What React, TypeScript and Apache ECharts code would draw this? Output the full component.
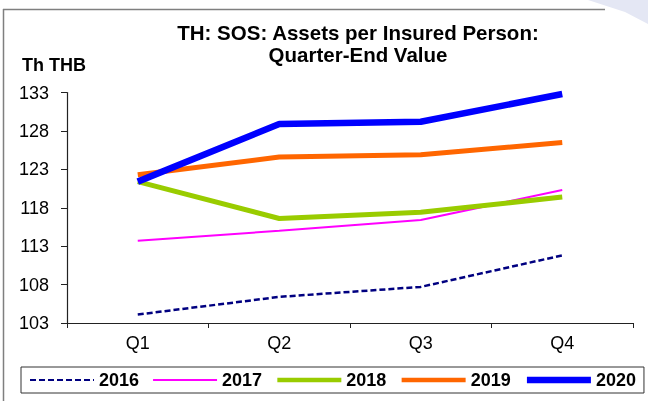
import { useEffect, useRef } from "react";
import * as echarts from "echarts";

const quarters = ["Q1", "Q2", "Q3", "Q4"];
const years = ["2016", "2017", "2018", "2019", "2020"];
const v2016 = [104.1, 106.4, 107.7, 111.8];
const v2017 = [113.7, 115.0, 116.4, 120.3];
const v2018 = [121.4, 116.6, 117.4, 119.4];
const v2019 = [122.3, 124.6, 124.9, 126.5];
const v2020 = [121.4, 128.9, 129.2, 132.8];
const yTicks = [103, 108, 113, 118, 123, 128, 133];

const FONT = '"Liberation Sans", Arial, sans-serif';

export default function App() {
  const ref = useRef<HTMLDivElement>(null);
  useEffect(() => {
    const chart = echarts.init(ref.current!, null, { renderer: "svg" });
    const values = [v2016, v2017, v2018, v2019, v2020];
    const styles = [
      { color: "#000080", width: 2.5, legendWidth: 2, type: [6, 3] as any },
      { color: "#ff00ff", width: 2, legendWidth: 2, type: "solid" },
      { color: "#99cc00", width: 5, legendWidth: 4.5, type: "solid" },
      { color: "#ff6600", width: 5, legendWidth: 4.5, type: "solid" },
      { color: "#0000ff", width: 6.5, legendWidth: 6.5, type: "solid" },
    ];
    chart.setOption({
      animation: false,
      textStyle: { fontFamily: FONT },
      grid: { left: 67, right: 15, top: 92.5, bottom: 78, containLabel: false },
      graphic: [
        {
          type: "polygon",
          shape: { points: [[588, 0], [648, 0], [648, 24], [625, 12]] },
          style: { fill: "#e4e7f4" },
          silent: true,
        },
        {
          type: "line",
          shape: { x1: 3, y1: 9.5, x2: 605, y2: 9.5 },
          style: { stroke: "#7f7f7f", lineWidth: 1.5 },
          silent: true,
        },
        {
          type: "line",
          shape: { x1: 3.5, y1: 9, x2: 3.5, y2: 401 },
          style: { stroke: "#7f7f7f", lineWidth: 1.5 },
          silent: true,
        },
        {
          type: "text",
          x: 358,
          y: 21,
          style: {
            text: "TH: SOS: Assets per Insured Person:\nQuarter-End Value",
            font: `bold 20.5px ${FONT}`,
            textAlign: "center",
            textVerticalAlign: "top",
            lineHeight: 22,
            fill: "#000",
          },
          silent: true,
        },
        {
          type: "text",
          x: 22,
          y: 65,
          style: {
            text: "Th THB",
            font: `bold 18px ${FONT}`,
            textAlign: "left",
            textVerticalAlign: "middle",
            fill: "#000",
          },
          silent: true,
        },
      ],
      legend: {
        data: years.map((y, i) => ({
          name: y,
          itemStyle: { opacity: 0 },
          lineStyle: {
            width: styles[i].legendWidth,
            color: styles[i].color,
            type: styles[i].type,
          },
        })),
        left: 21,
        top: 367,
        orient: "horizontal",
        itemWidth: 64,
        itemHeight: 14,
        itemGap: 13,
        padding: [4, 8],
        borderColor: "#333",
        borderWidth: 1,
        selectedMode: false,
        itemStyle: { opacity: 0 },
        textStyle: { fontFamily: FONT, fontSize: 18, fontWeight: "bold", color: "#000" },
      },
      xAxis: {
        type: "category",
        data: quarters,
        boundaryGap: true,
        axisLine: { lineStyle: { color: "#222", width: 1.2 } },
        axisTick: { show: true, length: 5, lineStyle: { color: "#222" } },
        axisLabel: { fontFamily: FONT, fontSize: 18, color: "#000", margin: 11 },
        splitLine: { show: false },
      },
      yAxis: {
        type: "value",
        min: 103,
        max: 133,
        axisLine: { show: true, lineStyle: { color: "#222", width: 1.2 } },
        axisTick: { show: true, length: 6, customValues: yTicks, lineStyle: { color: "#222" } },
        axisLabel: { fontFamily: FONT, fontSize: 18, color: "#000", margin: 18, customValues: yTicks },
        splitLine: { show: false },
      },
      series: years.map((y, i) => ({
        name: y,
        type: "line",
        data: values[i],
        symbol: "none",
        showSymbol: false,
        silent: true,
        itemStyle: { color: styles[i].color },
        lineStyle: { color: styles[i].color, width: styles[i].width, type: styles[i].type },
        emphasis: { disabled: true },
      })),
    });
    return () => chart.dispose();
  }, []);
  return <div ref={ref} style={{ position: "fixed", left: 0, top: 0, width: 648, height: 401 }} />;
}
